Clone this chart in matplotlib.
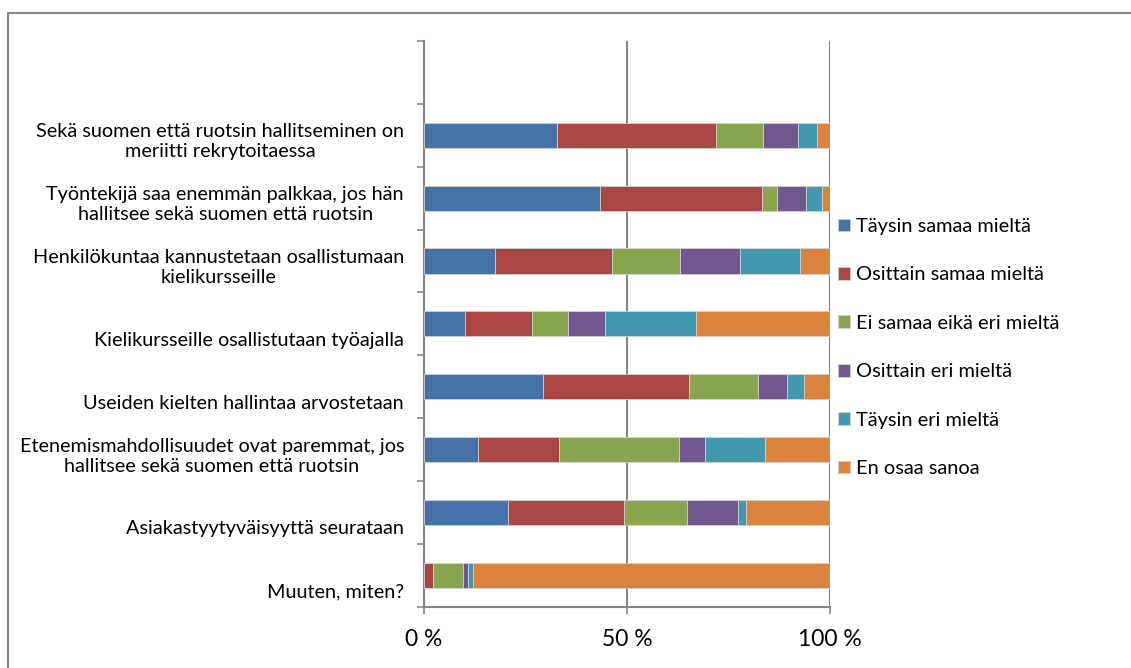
import numpy as np
import matplotlib
matplotlib.use('Agg')
import matplotlib.pyplot as plt
from matplotlib.patches import Rectangle

plt.rcParams['font.family'] = ['Lato', 'DejaVu Sans']

categories = [
    'Sekä suomen että ruotsin hallitseminen on\nmeriitti rekrytoitaessa',
    'Työntekijä saa enemmän palkkaa, jos hän\nhallitsee sekä suomen että ruotsin',
    'Henkilökuntaa kannustetaan osallistumaan\nkielikursseille',
    'Kielikursseille osallistutaan työajalla',
    'Useiden kielten hallintaa arvostetaan',
    'Etenemismahdollisuudet ovat paremmat, jos\nhallitsee sekä suomen että ruotsin',
    'Asiakastyytyväisyyttä seurataan',
    'Muuten, miten?',
]

series_names = ['Täysin samaa mieltä', 'Osittain samaa mieltä', 'Ei samaa eikä eri mieltä',
                'Osittain eri mieltä', 'Täysin eri mieltä', 'En osaa sanoa']

taysin_samaa = [32.8, 43.3, 17.4, 10.0, 29.4, 13.4, 20.6, 0.0]
osittain_samaa = [39.1, 40.0, 29.0, 16.7, 35.9, 19.9, 28.7, 2.3]
ei_samaa_eika_eri = [11.5, 3.6, 16.7, 8.7, 16.9, 29.5, 15.5, 7.4]
osittain_eri = [8.6, 7.2, 14.8, 9.3, 7.3, 6.5, 12.6, 1.2]
taysin_eri = [4.9, 4.0, 14.8, 22.2, 4.0, 14.8, 2.0, 1.2]
en_osaa = [3.1, 1.9, 7.3, 33.1, 6.5, 15.9, 20.6, 87.9]

colors = ['#4572A7', '#AA4643', '#89A54E', '#71588F', '#4198AF', '#DB843D']
grey = '#868686'

data = np.array([taysin_samaa, osittain_samaa, ei_samaa_eika_eri,
                 osittain_eri, taysin_eri, en_osaa])
data = data / data.sum(axis=0) * 100

fig = plt.figure(figsize=(11.31, 6.68), dpi=100)
ax = fig.add_axes([424 / 1131, 1 - 606.7 / 668, 406 / 1131, 565.7 / 668])

y = np.arange(len(categories))
left = np.zeros(len(categories))
for vals, name, c in zip(data, series_names, colors):
    ax.barh(y, vals, left=left, height=0.4, color=c, edgecolor='#d0d0d0',
            linewidth=0.6, label=name, zorder=3)
    left += vals

ax.set_xlim(0, 100)
ax.set_ylim(7.5, -1.5)

ax.set_xticks([0, 50, 100])
ax.set_xticklabels(['0 %', '50 %', '100 %'], fontsize=16.5)
ax.set_yticks(np.arange(-1.5, 8, 1))
ax.set_yticklabels([])
ax.tick_params(axis='both', direction='out', length=5, width=1.2, color=grey)
ax.tick_params(axis='x', pad=11)
ax.xaxis.grid(True, color=grey, linewidth=1.5, zorder=1)

for s in ['top', 'right']:
    ax.spines[s].set_visible(False)
for s in ['left', 'bottom']:
    ax.spines[s].set_color(grey)
    ax.spines[s].set_linewidth(1.5)

for i, label in enumerate(categories):
    ax.annotate(label, xy=(0, i), xycoords=('axes fraction', 'data'),
                xytext=(-20, -25), textcoords='offset pixels',
                ha='right', va='bottom', multialignment='center',
                fontsize=14.3, linespacing=1.2)

ax.legend(loc='upper left', bbox_to_anchor=(838 / 1131, 1 - 218 / 668),
          bbox_transform=fig.transFigure, frameon=False, fontsize=14.4,
          handlelength=0.6, handleheight=0.6, handletextpad=0.3,
          labelspacing=1.57, borderaxespad=0, borderpad=0)

fig.patches.append(Rectangle((8 / 1131, -0.05), 1.1, 1 - 13 / 668 + 0.05,
                             transform=fig.transFigure, fill=False,
                             edgecolor=grey, linewidth=1.5))

fig.savefig('out.png', dpi=100)
